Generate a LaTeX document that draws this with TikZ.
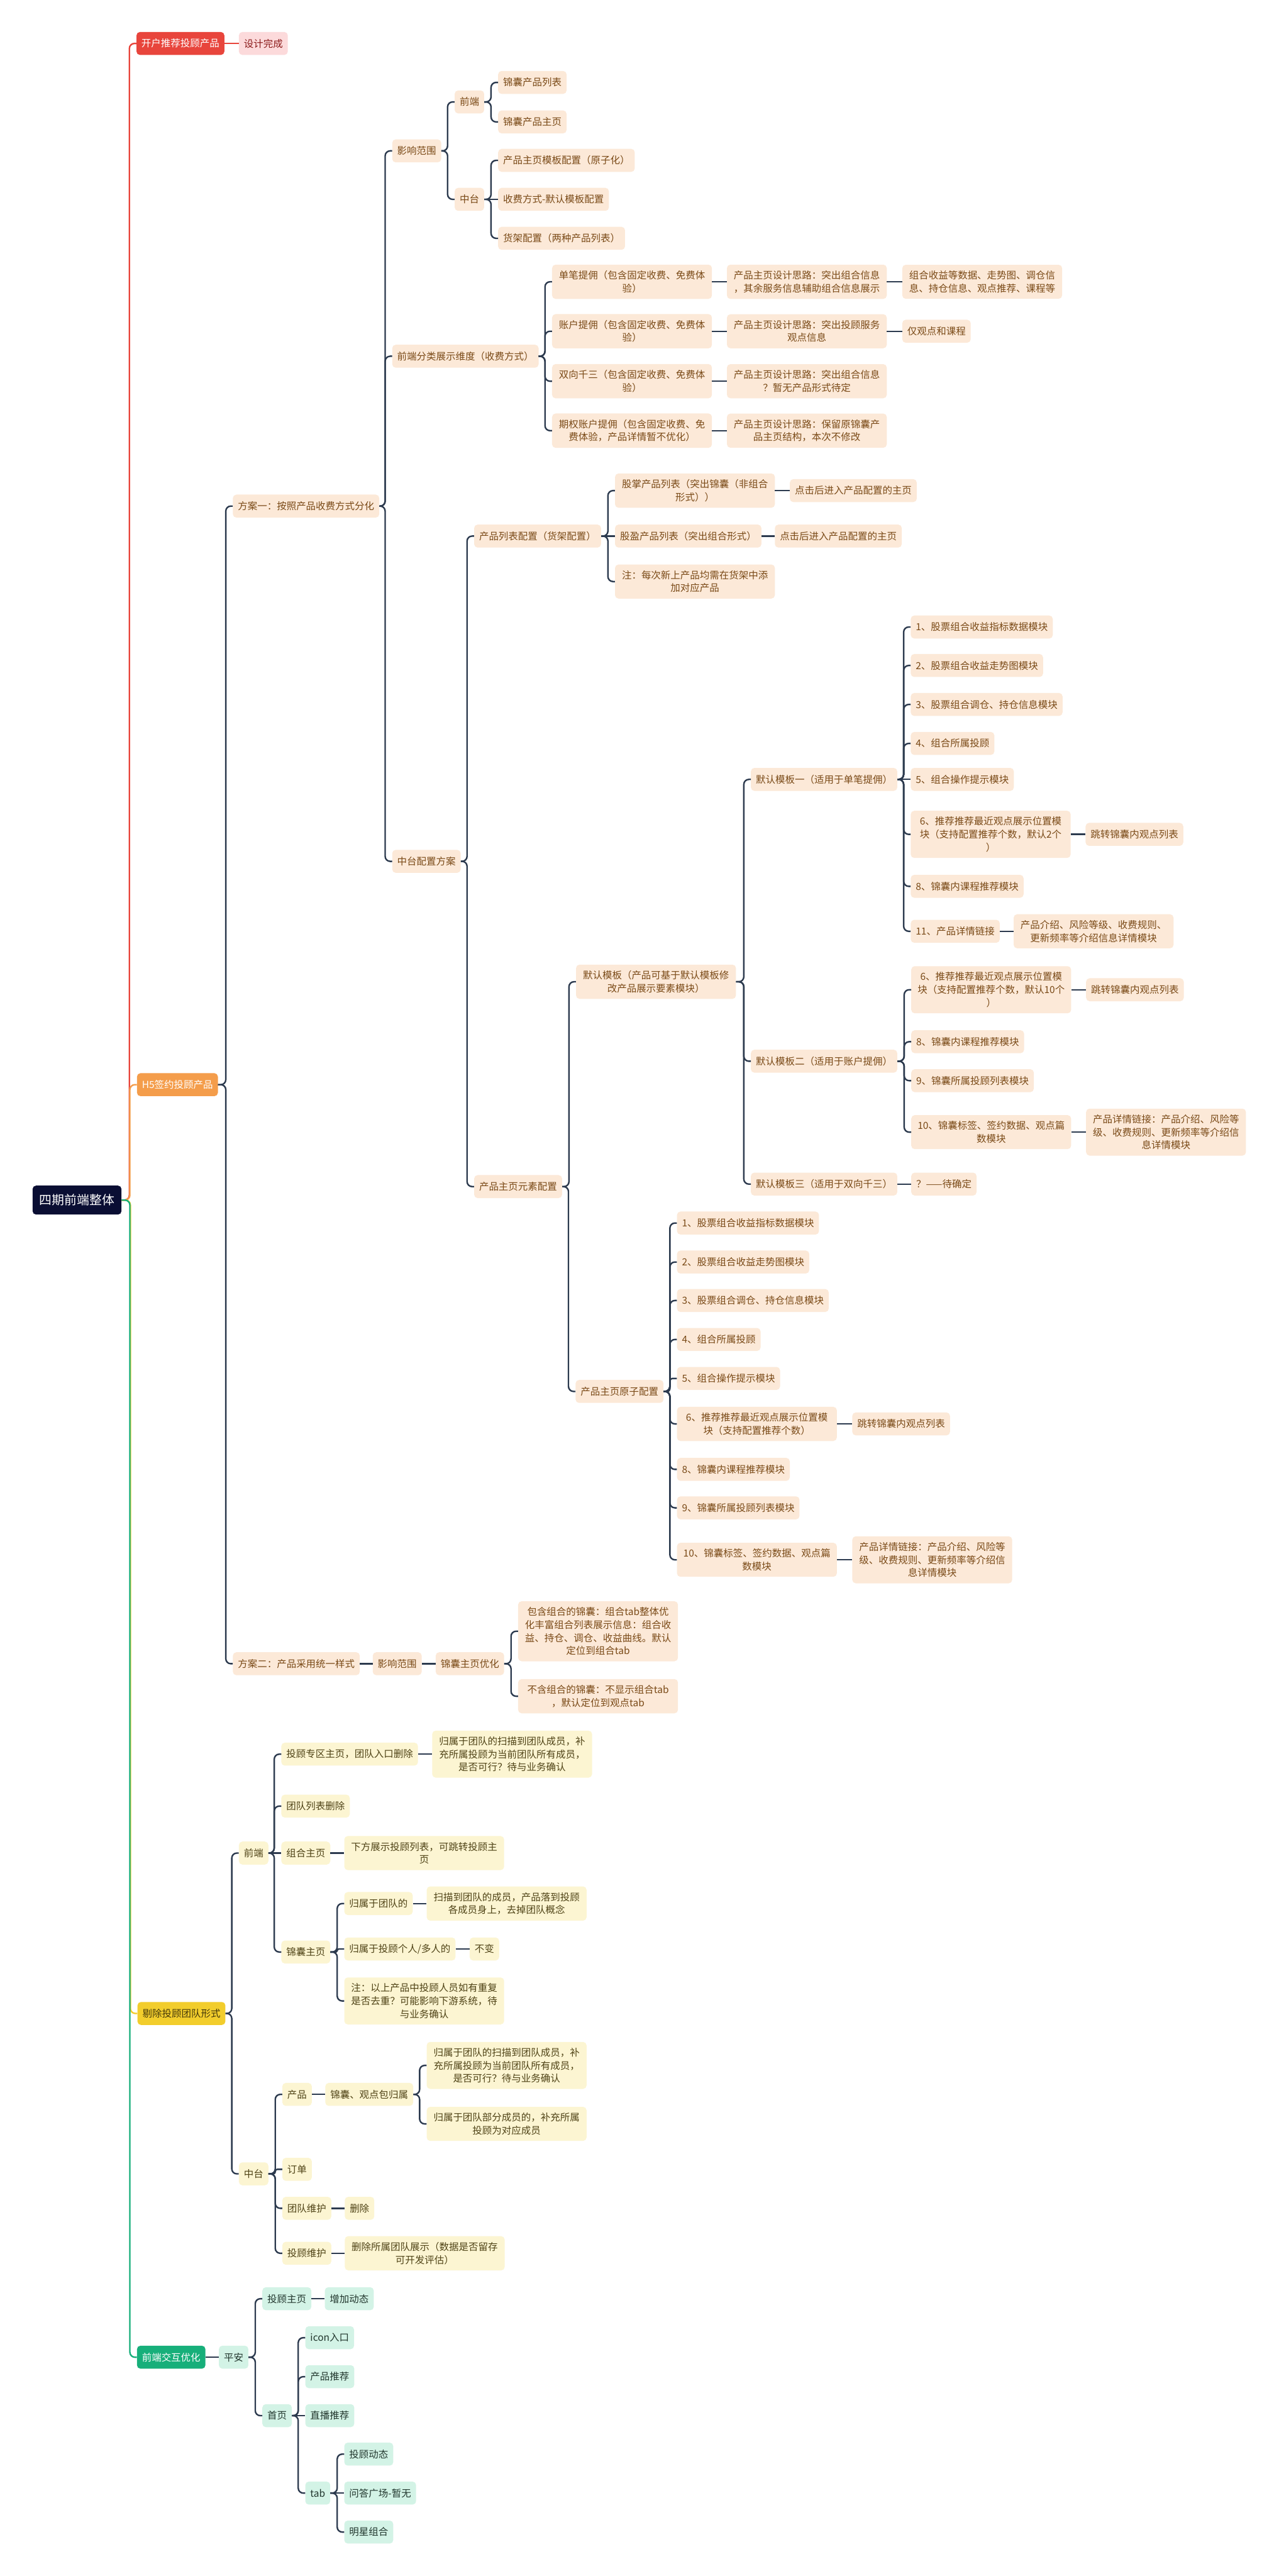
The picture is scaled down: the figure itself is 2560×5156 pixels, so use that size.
\documentclass[tikz,border=0pt]{standalone}
\usepackage{fontspec}
\setmainfont{Noto Sans CJK SC}
\definecolor{peach}{HTML}{FCE9D8}
\definecolor{brownt}{HTML}{7A4A17}
\definecolor{lyel}{HTML}{FCF5D2}
\definecolor{olivet}{HTML}{4F4316}
\definecolor{mint}{HTML}{D3F3E6}
\definecolor{mintt}{HTML}{22372E}
\definecolor{pinkf}{HTML}{FCDADB}
\definecolor{pinkt}{HTML}{8B1A1A}
\definecolor{redf}{HTML}{E8453C}
\definecolor{orgf}{HTML}{F49D4B}
\definecolor{yelf}{HTML}{F2CD2C}
\definecolor{yelt}{HTML}{45390A}
\definecolor{grnf}{HTML}{17AF7A}
\definecolor{rootf}{HTML}{0A0E33}
\definecolor{linec}{HTML}{2C3A4E}
\newcommand\fsz{\fontsize{19.5pt}{26pt}\selectfont}
\newcommand\fszroot{\fontsize{25pt}{30pt}\selectfont}
\newcommand\mmlink[3][]{\draw[conn,#1] (#2.east) -| ([xshift=-14pt]#3.west) -- (#3.west);}
\newcommand\mmstraight[2]{\draw[conn] (#1.east) -- (#2.west);}
\tikzset{
  box/.style={anchor=west, font=\fsz, inner xsep=10pt, inner ysep=12pt, minimum height=46pt, rounded corners=7pt},
  pc/.style={box, fill=peach, text=brownt},
  pcm/.style={pc, text width=300pt, align=center},
  yl/.style={box, fill=lyel, text=olivet},
  ylm/.style={yl, text width=300pt, align=center},
  mt/.style={box, fill=mint, text=mintt},
  conn/.style={draw=linec, line width=3pt, rounded corners=10pt},
  rootbox/.style={anchor=west, font=\fszroot, fill=rootf, text=white, inner xsep=14pt, minimum height=58pt, rounded corners=7pt},
}
\begin{document}
\begin{tikzpicture}[x=1pt,y=-1pt]
\fill[white] (0,0) rectangle (2560,5156);
\useasboundingbox (0,0) rectangle (2560,5156);

% root and level 1
\node[rootbox] (root) at (65,2402) {四期前端整体};
\node[box, fill=redf, text=white] (k) at (273,87) {开户推荐投顾产品};
\node[box, fill=pinkf, text=pinkt] (k1) at (478,87) {设计完成};
\node[box, fill=orgf, text=white] (h5) at (274,2171) {H5签约投顾产品};
\node[box, fill=yelf, text=yelt] (tc) at (275,4030) {剔除投顾团队形式};
\node[box, fill=grnf, text=white] (qd) at (274,4718) {前端交互优化};

\draw[conn, draw=redf] (root.east) -| ([xshift=-14pt]k.west) -- (k.west);
\draw[conn, draw=orgf] (root.east) -| ([xshift=-14pt]h5.west) -- (h5.west);
\draw[conn, draw=yelf] (root.east) -| ([xshift=-14pt]tc.west) -- (tc.west);
\draw[conn, draw=grnf] (root.east) -| ([xshift=-14pt]qd.west) -- (qd.west);
\draw[conn, draw=redf] (k.east) -- (k1.west);

% H5 subtree
\node[pc] (fa1) at (466,1013) {方案一：按照产品收费方式分化};
\node[pc] (fa2) at (466,3330) {方案二：产品采用统一样式};
\mmlink{h5}{fa1} \mmlink{h5}{fa2}

\node[pc] (yx) at (785,302) {影响范围};
\node[pc] (qdfl) at (785,713) {前端分类展示维度（收费方式）};
\node[pc] (ztpz) at (785,1724) {中台配置方案};
\mmlink{fa1}{yx} \mmlink{fa1}{qdfl} \mmlink{fa1}{ztpz}

\node[pc] (yxq) at (910,204) {前端};
\node[pc] (yxz) at (910,399) {中台};
\mmlink{yx}{yxq} \mmlink{yx}{yxz}
\node[pc] (j1) at (997,165) {锦囊产品列表};
\node[pc] (j2) at (997,244) {锦囊产品主页};
\mmlink{yxq}{j1} \mmlink{yxq}{j2}
\node[pc] (z1) at (997,321) {产品主页模板配置（原子化）};
\node[pc] (z2) at (997,399) {收费方式-默认模板配置};
\node[pc] (z3) at (997,477) {货架配置（两种产品列表）};
\mmlink{yxz}{z1} \mmstraight{yxz}{z2} \mmlink{yxz}{z3}

\node[pcm] (r1) at (1105,564) {单笔提佣（包含固定收费、免费体\\验）};
\node[pcm] (r1b) at (1455,564) {产品主页设计思路：突出组合信息\\，其余服务信息辅助组合信息展示};
\node[pcm] (r1c) at (1806,564) {组合收益等数据、走势图、调仓信\\息、持仓信息、观点推荐、课程等};
\node[pcm] (r2) at (1105,663) {账户提佣（包含固定收费、免费体\\验）};
\node[pcm] (r2b) at (1455,663) {产品主页设计思路：突出投顾服务\\观点信息};
\node[pc] (r2c) at (1806,663) {仅观点和课程};
\node[pcm] (r3) at (1105,763) {双向千三（包含固定收费、免费体\\验）};
\node[pcm] (r3b) at (1455,763) {产品主页设计思路：突出组合信息\\？暂无产品形式待定};
\node[pcm] (r4) at (1105,862) {期权账户提佣（包含固定收费、免\\费体验，产品详情暂不优化）};
\node[pcm] (r4b) at (1455,862) {产品主页设计思路：保留原锦囊产\\品主页结构，本次不修改};
\mmlink{qdfl}{r1} \mmlink{qdfl}{r2} \mmlink{qdfl}{r3} \mmlink{qdfl}{r4}
\mmstraight{r1}{r1b} \mmstraight{r1b}{r1c}
\mmstraight{r2}{r2b} \mmstraight{r2b}{r2c}
\mmstraight{r3}{r3b} \mmstraight{r4}{r4b}

% 中台配置方案
\node[pc] (hj) at (949,1073) {产品列表配置（货架配置）};
\node[pc] (ys) at (949,2375) {产品主页元素配置};
\mmlink{ztpz}{hj} \mmlink{ztpz}{ys}
\node[pcm] (hj1) at (1231,982) {股掌产品列表（突出锦囊（非组合\\形式））};
\node[pc] (hj1a) at (1581,982) {点击后进入产品配置的主页};
\node[pc] (hj2) at (1231,1073) {股盈产品列表（突出组合形式）};
\node[pc] (hj2a) at (1551,1073) {点击后进入产品配置的主页};
\node[pcm] (hj3) at (1231,1164) {注：每次新上产品均需在货架中添\\加对应产品};
\mmlink{hj}{hj1} \mmstraight{hj}{hj2} \mmlink{hj}{hj3}
\mmstraight{hj1}{hj1a} \mmstraight{hj2}{hj2a}

\node[pcm] (mb) at (1153,1965) {默认模板（产品可基于默认模板修\\改产品展示要素模块）};
\node[pc] (yz) at (1152,2785) {产品主页原子配置};
\mmlink{ys}{mb} \mmlink{ys}{yz}

\node[pc] (m1) at (1503,1560) {默认模板一（适用于单笔提佣）};
\node[pc] (m2) at (1503,2124) {默认模板二（适用于账户提佣）};
\node[pc] (m3) at (1503,2370) {默认模板三（适用于双向千三）};
\mmlink{mb}{m1} \mmlink{mb}{m2} \mmlink{mb}{m3}

\node[pc] (m1a) at (1823,1255) {1、股票组合收益指标数据模块};
\node[pc] (m1b) at (1823,1332) {2、股票组合收益走势图模块};
\node[pc] (m1c) at (1823,1410) {3、股票组合调仓、持仓信息模块};
\node[pc] (m1d) at (1823,1488) {4、组合所属投顾};
\node[pc] (m1e) at (1823,1560) {5、组合操作提示模块};
\node[pcm] (m1f) at (1823,1670) {6、推荐推荐最近观点展示位置模\\块（支持配置推荐个数，默认2个\\）};
\node[pc] (m1f1) at (2173,1670) {跳转锦囊内观点列表};
\node[pc] (m1g) at (1823,1774) {8、锦囊内课程推荐模块};
\node[pc] (m1h) at (1823,1864) {11、产品详情链接};
\node[pcm] (m1h1) at (2029,1864) {产品介绍、风险等级、收费规则、\\更新频率等介绍信息详情模块};
\mmlink{m1}{m1a} \mmlink{m1}{m1b} \mmlink{m1}{m1c} \mmlink{m1}{m1d}
\mmstraight{m1}{m1e} \mmlink{m1}{m1f} \mmlink{m1}{m1g} \mmlink{m1}{m1h}
\mmstraight{m1f}{m1f1} \mmstraight{m1h}{m1h1}

\node[pcm] (m2a) at (1824,1981) {6、推荐推荐最近观点展示位置模\\块（支持配置推荐个数，默认10个\\）};
\node[pc] (m2a1) at (2174,1981) {跳转锦囊内观点列表};
\node[pc] (m2b) at (1824,2085) {8、锦囊内课程推荐模块};
\node[pc] (m2c) at (1824,2163) {9、锦囊所属投顾列表模块};
\node[pcm] (m2d) at (1824,2266) {10、锦囊标签、签约数据、观点篇\\数模块};
\node[pcm] (m2d1) at (2174,2266) {产品详情链接：产品介绍、风险等\\级、收费规则、更新频率等介绍信\\息详情模块};
\mmlink{m2}{m2a} \mmlink{m2}{m2b} \mmlink{m2}{m2c} \mmlink{m2}{m2d}
\mmstraight{m2a}{m2a1} \mmstraight{m2d}{m2d1}
\node[pc] (m3a) at (1824,2370) {？——待确定};
\mmstraight{m3}{m3a}

\node[pc] (y1) at (1355,2448) {1、股票组合收益指标数据模块};
\node[pc] (y2) at (1355,2526) {2、股票组合收益走势图模块};
\node[pc] (y3) at (1355,2603) {3、股票组合调仓、持仓信息模块};
\node[pc] (y4) at (1355,2681) {4、组合所属投顾};
\node[pc] (y5) at (1355,2759) {5、组合操作提示模块};
\node[pcm] (y6) at (1355,2850) {6、推荐推荐最近观点展示位置模\\块（支持配置推荐个数）};
\node[pc] (y61) at (1706,2850) {跳转锦囊内观点列表};
\node[pc] (y7) at (1355,2941) {8、锦囊内课程推荐模块};
\node[pc] (y8) at (1355,3018) {9、锦囊所属投顾列表模块};
\node[pcm] (y9) at (1355,3122) {10、锦囊标签、签约数据、观点篇\\数模块};
\node[pcm] (y91) at (1706,3122) {产品详情链接：产品介绍、风险等\\级、收费规则、更新频率等介绍信\\息详情模块};
\mmlink{yz}{y1} \mmlink{yz}{y2} \mmlink{yz}{y3} \mmlink{yz}{y4}
\mmlink[rounded corners=5pt]{yz}{y5} \mmlink{yz}{y6} \mmlink{yz}{y7} \mmlink{yz}{y8} \mmlink{yz}{y9}
\mmstraight{y6}{y61} \mmstraight{y9}{y91}

% 方案二
\node[pc] (fa2a) at (746,3330) {影响范围};
\node[pc] (fa2b) at (872,3330) {锦囊主页优化};
\mmstraight{fa2}{fa2a} \mmstraight{fa2a}{fa2b}
\node[pcm] (fa2c) at (1037,3265) {包含组合的锦囊：组合tab整体优\\化丰富组合列表展示信息：组合收\\益、持仓、调仓、收益曲线。默认\\定位到组合tab};
\node[pcm] (fa2d) at (1037,3395) {不含组合的锦囊：不显示组合tab\\，默认定位到观点tab};
\mmlink{fa2b}{fa2c} \mmlink{fa2b}{fa2d}

% 剔除投顾团队形式
\node[yl] (tq) at (478,3709) {前端};
\node[yl] (tz) at (478,4351) {中台};
\mmlink{tc}{tq} \mmlink{tc}{tz}

\node[yl] (tq1) at (563,3511) {投顾专区主页，团队入口删除};
\node[ylm] (tq1a) at (865,3511) {归属于团队的扫描到团队成员，补\\充所属投顾为当前团队所有成员，\\是否可行？待与业务确认};
\node[yl] (tq2) at (563,3615) {团队列表删除};
\node[yl] (tq3) at (563,3709) {组合主页};
\node[ylm] (tq3a) at (689,3709) {下方展示投顾列表，可跳转投顾主\\页};
\node[yl] (tq4) at (563,3907) {锦囊主页};
\mmlink{tq}{tq1} \mmlink{tq}{tq2} \mmstraight{tq}{tq3} \mmlink{tq}{tq4}
\mmstraight{tq1}{tq1a} \mmstraight{tq3}{tq3a}

\node[yl] (tq4a) at (689,3810) {归属于团队的};
\node[ylm] (tq4a1) at (854,3810) {扫描到团队的成员，产品落到投顾\\各成员身上，去掉团队概念};
\node[yl] (tq4b) at (689,3901) {归属于投顾个人/多人的};
\node[yl] (tq4b1) at (940,3901) {不变};
\node[ylm] (tq4c) at (689,4005) {注：以上产品中投顾人员如有重复\\是否去重？可能影响下游系统，待\\与业务确认};
\mmlink{tq4}{tq4a} \mmlink[rounded corners=2.5pt]{tq4}{tq4b} \mmlink{tq4}{tq4c}
\mmstraight{tq4a}{tq4a1} \mmstraight{tq4b}{tq4b1}

\node[yl] (tz1) at (565,4192) {产品};
\node[yl] (tz1a) at (651,4192) {锦囊、观点包归属};
\node[ylm] (tz1a1) at (854,4134) {归属于团队的扫描到团队成员，补\\充所属投顾为当前团队所有成员，\\是否可行？待与业务确认};
\node[ylm] (tz1a2) at (854,4251) {归属于团队部分成员的，补充所属\\投顾为对应成员};
\node[yl] (tz2) at (565,4342) {订单};
\node[yl] (tz3) at (565,4420) {团队维护};
\node[yl] (tz3a) at (690,4420) {删除};
\node[yl] (tz4) at (565,4510) {投顾维护};
\node[ylm] (tz4a) at (690,4510) {删除所属团队展示（数据是否留存\\可开发评估）};
\mmlink{tz}{tz1} \mmlink[rounded corners=4pt]{tz}{tz2} \mmlink{tz}{tz3} \mmlink{tz}{tz4}
\mmstraight{tz1}{tz1a} \mmlink{tz1a}{tz1a1} \mmlink{tz1a}{tz1a2}
\mmstraight{tz3}{tz3a} \mmstraight{tz4}{tz4a}

% 前端交互优化
\node[mt] (pa) at (438,4718) {平安};
\draw[conn] (qd.east) -- (pa.west);
\node[mt] (pa1) at (525,4601) {投顾主页};
\node[mt] (pa1a) at (650,4601) {增加动态};
\node[mt] (pa2) at (525,4835) {首页};
\mmlink{pa}{pa1} \mmlink{pa}{pa2} \mmstraight{pa1}{pa1a}
\node[mt] (pa2a) at (611,4679) {icon入口};
\node[mt] (pa2b) at (611,4757) {产品推荐};
\node[mt] (pa2c) at (611,4835) {直播推荐};
\node[mt] (pa2d) at (611,4990) {tab};
\mmlink{pa2}{pa2a} \mmlink{pa2}{pa2b} \mmstraight{pa2}{pa2c} \mmlink{pa2}{pa2d}
\node[mt] (pa2d1) at (689,4912) {投顾动态};
\node[mt] (pa2d2) at (689,4990) {问答广场-暂无};
\node[mt] (pa2d3) at (689,5068) {明星组合};
\mmlink{pa2d}{pa2d1} \mmstraight{pa2d}{pa2d2} \mmlink{pa2d}{pa2d3}
\end{tikzpicture}
\end{document}
